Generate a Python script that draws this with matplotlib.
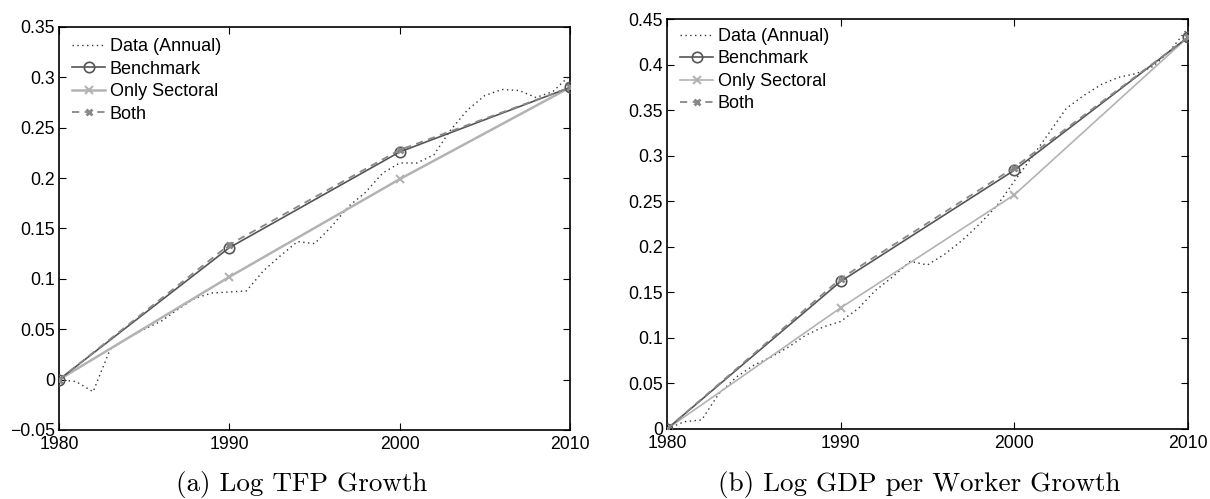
import matplotlib.pyplot as plt

# Years
years_annual = list(range(1980, 2011))
years_decade = [1980, 1990, 2000, 2010]

# Panel (a): log TFP growth
tfp_annual = [0.0, -0.002, -0.012, 0.030, 0.041, 0.050, 0.058, 0.070, 0.081, 0.086,
              0.087, 0.088, 0.108, 0.123, 0.137, 0.135, 0.152, 0.172, 0.186, 0.205,
              0.215, 0.215, 0.223, 0.248, 0.268, 0.282, 0.288, 0.287, 0.280, 0.286,
              0.302]
tfp_benchmark = [0.0, 0.131, 0.226, 0.290]
tfp_sectoral = [0.0, 0.102, 0.199, 0.290]
tfp_both = [0.0, 0.134, 0.228, 0.290]

# Panel (b): log GDP per worker growth
gdp_annual = [0.0, 0.008, 0.010, 0.039, 0.057, 0.070, 0.079, 0.090, 0.103, 0.112,
              0.118, 0.132, 0.152, 0.167, 0.184, 0.180, 0.192, 0.207, 0.225, 0.245,
              0.272, 0.298, 0.325, 0.352, 0.366, 0.378, 0.386, 0.390, 0.398, 0.416,
              0.440]
gdp_benchmark = [0.0, 0.162, 0.284, 0.430]
gdp_sectoral = [0.0, 0.133, 0.257, 0.430]
gdp_both = [0.0, 0.165, 0.287, 0.430]

tfp_yticks = [-0.05, 0, 0.05, 0.1, 0.15, 0.2, 0.25, 0.3, 0.35]
tfp_ylabels = ["\u22120.05", "0", "0.05", "0.1", "0.15", "0.2", "0.25", "0.3", "0.35"]
gdp_yticks = [0, 0.05, 0.1, 0.15, 0.2, 0.25, 0.3, 0.35, 0.4, 0.45]
gdp_ylabels = ["0", "0.05", "0.1", "0.15", "0.2", "0.25", "0.3", "0.35", "0.4", "0.45"]

plt.rcParams["font.family"] = ["Liberation Sans", "DejaVu Sans"]

fig = plt.figure(figsize=(12.10, 4.99), dpi=100)
ax1 = fig.add_axes([0.0488, 0.1383, 0.4223, 0.8076])
ax2 = fig.add_axes([0.5512, 0.1403, 0.4306, 0.8216])


def draw_panel(ax, annual, bench, sect, both, sect_lw, yticks, ylabels, ylim, leg_anchor):
    ax.plot(years_annual, annual, color="#333333", lw=1.0, ls=(0, (1, 2.5)),
            label="Data (Annual)", zorder=2)
    ax.plot(years_decade, bench, color="#555555", lw=1.2, marker="o", ms=7.5,
            mfc="none", mew=1.2, label="Benchmark", zorder=4)
    ax.plot(years_decade, sect, color="#b3b3b3", lw=sect_lw, marker="x", ms=6,
            mew=1.5, label="Only Sectoral", zorder=3)
    ax.plot(years_decade, both, color="#888888", lw=1.3, ls=(0, (4, 3)), marker="x",
            ms=5, mew=2.0, label="Both", zorder=5)

    ax.set_xlim(1980, 2010)
    ax.set_ylim(*ylim)
    ax.set_xticks(years_decade)
    ax.set_xticklabels([str(y) for y in years_decade])
    ax.set_yticks(yticks)
    ax.set_yticklabels(ylabels)
    ax.tick_params(direction="in", length=5, width=0.8, top=True, right=True,
                   labelsize=12.7, colors="black")
    ax.tick_params(axis="x", pad=4)
    ax.tick_params(axis="y", pad=3)
    for s in ax.spines.values():
        s.set_linewidth(1.2)

    ax.legend(loc="upper left", bbox_to_anchor=leg_anchor, frameon=False,
              fontsize=13, handlelength=1.85, handletextpad=0.25,
              labelspacing=0.3, borderpad=0, borderaxespad=0)


draw_panel(ax1, tfp_annual, tfp_benchmark, tfp_sectoral, tfp_both, 1.8,
           tfp_yticks, tfp_ylabels, (-0.05, 0.35), (0.025, 0.972))
draw_panel(ax2, gdp_annual, gdp_benchmark, gdp_sectoral, gdp_both, 1.2,
           gdp_yticks, gdp_ylabels, (0, 0.45), (0.025, 0.978))

fig.text(302 / 1210, 1 - 485 / 499, "(a) Log TFP Growth", family="cmr10",
         fontsize=19.5, ha="center", va="center")
fig.text(919 / 1210, 1 - 485 / 499, "(b) Log GDP per Worker Growth", family="cmr10",
         fontsize=19.5, ha="center", va="center")

fig.savefig("out.png", dpi=100)
